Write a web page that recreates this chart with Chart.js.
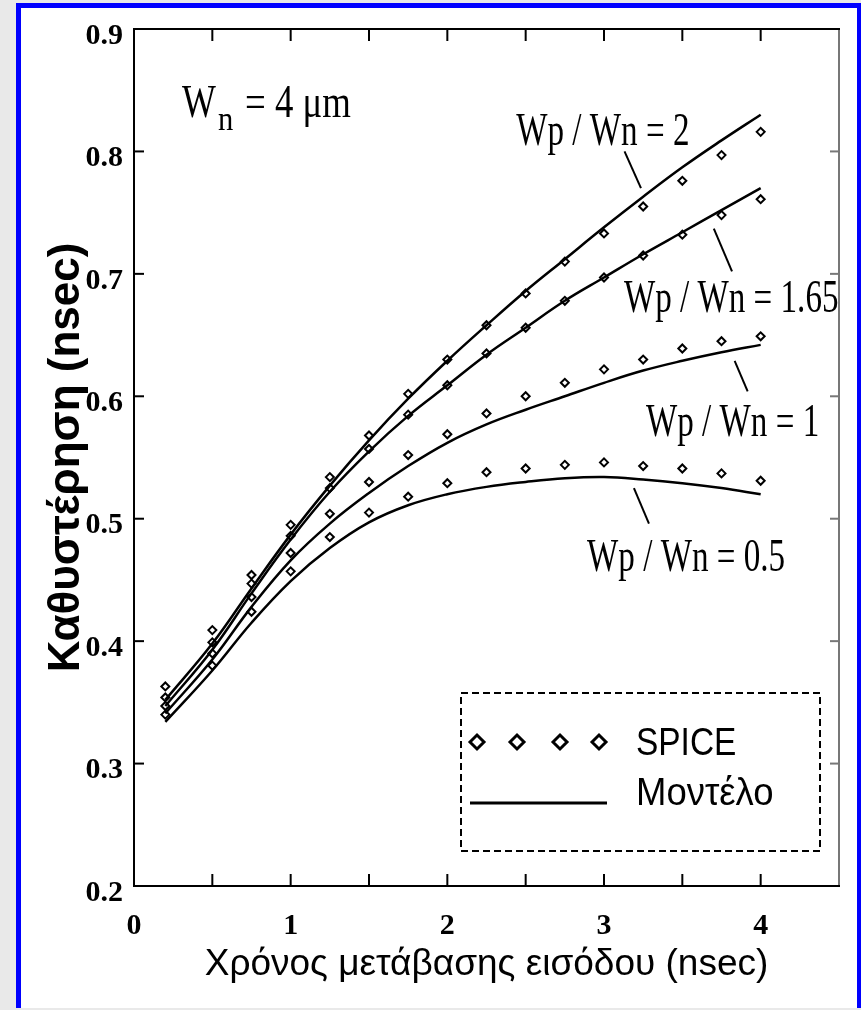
<!DOCTYPE html>
<html>
<head>
<meta charset="utf-8">
<script src="https://cdn.jsdelivr.net/npm/chart.js@4.4.0/dist/chart.umd.min.js"></script>
<style>
  html, body { margin: 0; padding: 0; }
  body { width: 861px; height: 1010px; background: #e9e9e9; position: relative; overflow: hidden; }
  #frame {
    position: absolute; left: 16px; top: 3px; width: 845px; height: 1005px;
    box-sizing: border-box; background: #fff;
    border-left: 5px solid #0000ff; border-top: 5px solid #0000ff; border-right: 4px solid #0000ff;
  }
  #delayChart { position: absolute; left: 0; top: 0; }
</style>
</head>
<body>
<div id="frame"></div>
<canvas id="delayChart" width="861" height="1010"></canvas>
<script>
// === Data ===
const inputTimes = [0.2, 0.5, 0.75, 1.0, 1.25, 1.5, 1.75, 2.0, 2.25, 2.5, 2.75, 3.0, 3.25, 3.5, 3.75, 4.0];
const ratioLabels = ["Wp / Wn = 2", "Wp / Wn = 1.65", "Wp / Wn = 1", "Wp / Wn = 0.5"];

// SPICE simulation (diamonds)
const spiceRatio2   = [0.363, 0.409, 0.454, 0.495, 0.534, 0.568, 0.602, 0.630, 0.658, 0.684, 0.710, 0.733, 0.755, 0.776, 0.797, 0.816];
const spiceRatio165 = [0.354, 0.399, 0.447, 0.486, 0.525, 0.557, 0.585, 0.609, 0.635, 0.656, 0.678, 0.697, 0.715, 0.732, 0.748, 0.761];
const spiceRatio1   = [0.347, 0.390, 0.436, 0.472, 0.504, 0.530, 0.552, 0.569, 0.586, 0.600, 0.611, 0.622, 0.630, 0.639, 0.645, 0.649];
const spiceRatio05  = [0.340, 0.380, 0.424, 0.457, 0.485, 0.505, 0.518, 0.529, 0.538, 0.541, 0.544, 0.546, 0.543, 0.541, 0.537, 0.531];

// Model (solid lines)
const modelRatio2   = [0.352, 0.398, 0.443, 0.487, 0.527, 0.564, 0.598, 0.629, 0.658, 0.686, 0.712, 0.738, 0.763, 0.787, 0.809, 0.830];
const modelRatio165 = [0.347, 0.393, 0.439, 0.483, 0.522, 0.555, 0.584, 0.609, 0.634, 0.656, 0.678, 0.697, 0.716, 0.734, 0.752, 0.770];
const modelRatio1   = [0.341, 0.385, 0.428, 0.466, 0.496, 0.521, 0.543, 0.562, 0.577, 0.589, 0.600, 0.611, 0.621, 0.629, 0.636, 0.642];
const modelRatio05  = [0.334, 0.376, 0.415, 0.449, 0.476, 0.497, 0.511, 0.520, 0.526, 0.530, 0.533, 0.534, 0.532, 0.529, 0.525, 0.520];

const xTickLabels = ["0", "1", "2", "3", "4"];
const yTickLabels = ["0.2", "0.3", "0.4", "0.5", "0.6", "0.7", "0.8", "0.9"];

const legendLabels = ["SPICE", "Μοντέλο"];

// === Label placement (data coordinates) ===
const curveNotes = [
  { text: ratioLabels[0], at: [2.44, 0.805], leader: [[3.131, 0.800], [3.236, 0.770]] },
  { text: ratioLabels[1], at: [3.127, 0.669], leader: [[3.701, 0.737], [3.817, 0.702]] },
  { text: ratioLabels[2], at: [3.268, 0.5675], leader: [[3.834, 0.629], [3.917, 0.604]] },
  { text: ratioLabels[3], at: [2.892, 0.4575], leader: [[3.191, 0.525], [3.287, 0.496]] },
];
const widthNote = { at: [0.306, 0.828] };

const pts = (ys) => inputTimes.map((x, i) => ({ x, y: ys[i] }));

const modelSet = (label, ys) => ({
  label,
  data: pts(ys),
  showLine: true,
  borderColor: "#000",
  borderWidth: 2.5,
  pointRadius: 0,
  tension: 0.4,
});

const spiceSet = (label, ys) => ({
  label,
  data: pts(ys),
  showLine: false,
  pointStyle: "rectRot",
  pointRadius: 4,
  pointBorderWidth: 2,
  pointBorderColor: "#000",
  pointBackgroundColor: "rgba(0,0,0,0)",
});

// === Text helper: narrow serif look via horizontal scaling ===
function drawText(ctx, str, x, y, font, sx) {
  ctx.save();
  ctx.translate(x, y);
  ctx.scale(sx, 1);
  ctx.font = font;
  ctx.fillStyle = "#000";
  ctx.textBaseline = "alphabetic";
  ctx.textAlign = "left";
  ctx.fillText(str, 0, 0);
  ctx.restore();
}

function diamond(ctx, cx, cy, r) {
  ctx.beginPath();
  ctx.moveTo(cx - r, cy);
  ctx.lineTo(cx, cy - r);
  ctx.lineTo(cx + r, cy);
  ctx.lineTo(cx, cy + r);
  ctx.closePath();
  ctx.stroke();
}

// === Frame with inward ticks ===
const framePlugin = {
  id: "frame",
  beforeDatasetsDraw(chart) {
    const { ctx, chartArea: a, scales: { x, y } } = chart;
    ctx.save();
    ctx.lineCap = "butt";
    ctx.lineWidth = 2;
    const seg = (x1, y1, x2, y2, col) => {
      ctx.strokeStyle = col;
      ctx.beginPath();
      ctx.moveTo(x1, y1);
      ctx.lineTo(x2, y2);
      ctx.stroke();
    };
    x.ticks.forEach((t) => {
      if (t.value <= x.min || t.value >= x.max) return;
      const px = x.getPixelForValue(t.value);
      seg(px, a.bottom, px, a.bottom - 12, "#000");
      seg(px, a.top, px, a.top + 12, "#000");
    });
    y.ticks.forEach((t) => {
      if (t.value <= y.min + 1e-9 || t.value >= y.max - 1e-9) return;
      const py = y.getPixelForValue(t.value);
      seg(a.left, py, a.left + 10, py, "#000");
      seg(a.right, py, a.right - 9, py, "#777");
    });
    seg(a.right, a.top, a.right, a.bottom, "#777");
    seg(a.left - 1, a.top, a.right + 1, a.top, "#000");
    seg(a.left - 1, a.bottom, a.right + 1, a.bottom, "#000");
    seg(a.left, a.top - 1, a.left, a.bottom + 1, "#000");
    ctx.restore();
  },
};

// === Curve labels, leaders, W_n note and legend box ===
const notesPlugin = {
  id: "notes",
  afterDatasetsDraw(chart) {
    const { ctx, chartArea: a, scales: { x, y } } = chart;
    ctx.save();
    const serif = "46px 'Liberation Serif', 'Times New Roman', serif";

    curveNotes.forEach((n) => {
      drawText(ctx, n.text, x.getPixelForValue(n.at[0]), y.getPixelForValue(n.at[1]), serif, 0.72);
      ctx.strokeStyle = "#000";
      ctx.lineWidth = 2;
      ctx.beginPath();
      ctx.moveTo(x.getPixelForValue(n.leader[0][0]), y.getPixelForValue(n.leader[0][1]));
      ctx.lineTo(x.getPixelForValue(n.leader[1][0]), y.getPixelForValue(n.leader[1][1]));
      ctx.stroke();
    });

    // W_n = 4 μm
    const wx = x.getPixelForValue(widthNote.at[0]);
    const wy = y.getPixelForValue(widthNote.at[1]);
    drawText(ctx, "W", wx, wy, serif, 0.78);
    drawText(ctx, "n", wx + 36, wy + 13, "34px 'Liberation Serif', serif", 0.9);
    drawText(ctx, "= 4 μm", wx + 63, wy, serif, 0.8);

    // legend box
    const L = a.right - 378, T = a.bottom - 193, W = 359, H = 158;
    ctx.strokeStyle = "#000";
    ctx.lineWidth = 2;
    ctx.setLineDash([7, 4]);
    ctx.strokeRect(L, T, W, H);
    ctx.setLineDash([]);

    ctx.lineWidth = 3;
    [16, 56, 99, 138].forEach((dx) => diamond(ctx, L + dx, T + 49, 7));
    ctx.beginPath();
    ctx.moveTo(L + 9, T + 110);
    ctx.lineTo(L + 146, T + 110);
    ctx.stroke();

    const sans = "38px 'Liberation Sans', Arial, sans-serif";
    drawText(ctx, legendLabels[0], L + 175, T + 62, sans, 0.88);
    drawText(ctx, legendLabels[1], L + 175, T + 112, sans, 0.96);
    ctx.restore();
  },
};

new Chart(document.getElementById("delayChart"), {
  type: "scatter",
  data: {
    datasets: [
      modelSet("Model " + ratioLabels[0], modelRatio2),
      modelSet("Model " + ratioLabels[1], modelRatio165),
      modelSet("Model " + ratioLabels[2], modelRatio1),
      modelSet("Model " + ratioLabels[3], modelRatio05),
      spiceSet("SPICE " + ratioLabels[0], spiceRatio2),
      spiceSet("SPICE " + ratioLabels[1], spiceRatio165),
      spiceSet("SPICE " + ratioLabels[2], spiceRatio1),
      spiceSet("SPICE " + ratioLabels[3], spiceRatio05),
    ],
  },
  options: {
    responsive: false,
    animation: false,
    layout: { padding: { left: 0, top: 27, right: 21, bottom: 0 } },
    plugins: { legend: { display: false }, tooltip: { enabled: false } },
    scales: {
      x: {
        type: "linear",
        min: 0,
        max: 4.5,
        afterFit: (s) => { s.height = 124; },
        grid: { display: false, drawTicks: false },
        border: { display: false },
        ticks: {
          stepSize: 0.5,
          autoSkip: false,
          maxRotation: 0,
          padding: 22,
          color: "#000",
          font: { family: "'Liberation Serif', 'Times New Roman', serif", size: 30, weight: "bold" },
          callback: (v) => (Number.isInteger(v) ? xTickLabels[v] || "" : ""),
        },
        title: {
          display: true,
          text: "Χρόνος μετάβασης εισόδου (nsec)",
          color: "#000",
          font: { family: "'Liberation Sans', Arial, sans-serif", size: 37 },
          padding: { top: 0, bottom: 23 },
        },
      },
      y: {
        min: 0.2,
        max: 0.9,
        afterFit: (s) => { s.width = 134; },
        grid: { display: false, drawTicks: false },
        border: { display: false },
        ticks: {
          stepSize: 0.1,
          padding: 11,
          labelOffset: 7,
          color: "#000",
          font: { family: "'Liberation Serif', 'Times New Roman', serif", size: 30, weight: "bold" },
          callback: (v) => yTickLabels[Math.round(v * 10) - 2] || "",
        },
        title: {
          display: true,
          text: "Καθυστέρηση (nsec)",
          color: "#000",
          font: { family: "'Liberation Sans', Arial, sans-serif", size: 44, weight: "bold" },
          padding: { top: 40, bottom: 0 },
        },
      },
    },
  },
  plugins: [framePlugin, notesPlugin],
});
</script>
</body>
</html>
